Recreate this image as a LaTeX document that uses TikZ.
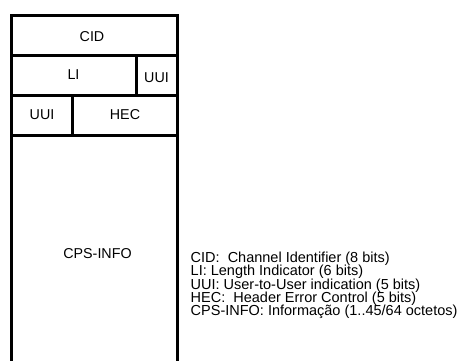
\documentclass[tikz,border=0pt]{standalone}
\usepackage{fontspec}
\setmainfont{Liberation Sans}
\begin{document}
\begin{tikzpicture}[x=1pt,y=-1pt,
  frame/.style={line width=3pt,black},
  lbl/.style={inner sep=0pt,font=\fontsize{14.3}{16}\selectfont},
  leg/.style={inner sep=0pt,anchor=base west,font=\fontsize{14.5}{16}\selectfont}]
\fill[white] (0,0) rectangle (463,360);
\useasboundingbox (0,0) rectangle (463,360);
% frame
\draw[frame] (11,362) -- (11,15) -- (177.5,15) -- (177.5,362);
\draw[frame] (11,55) -- (177.5,55);
\draw[frame] (11,95) -- (177.5,95);
\draw[frame] (11,135) -- (177.5,135);
\draw[frame] (136,55) -- (136,95);
\draw[frame] (72,95) -- (72,135);
% labels
\node[lbl] (cid) at (92,36.5) {CID};
\node[lbl] (li) at (73.5,75) {LI};
\node[lbl] (uui1) at (156.5,77.5) {UUI};
\node[lbl] (uui2) at (42,115) {UUI};
\node[lbl] (hec) at (125,115) {HEC};
\node[lbl] (cps) at (97.5,253.5) {CPS-INFO};
% legend
\node[leg] (leg1) at (190.5,262.5) {CID:\ \ Channel Identifier (8 bits)};
\node[leg] (leg2) at (190.5,275.8) {LI: Length Indicator (6 bits)};
\node[leg] (leg3) at (190.5,289.1) {UUI: User-to-User indication (5 bits)};
\node[leg] (leg4) at (190.5,302.4) {HEC:\ \ Header Error Control (5 bits)};
\node[leg] (leg5) at (190.5,315.7) {CPS-INFO: Informação (1..45/64 octetos)};
\end{tikzpicture}
\end{document}
